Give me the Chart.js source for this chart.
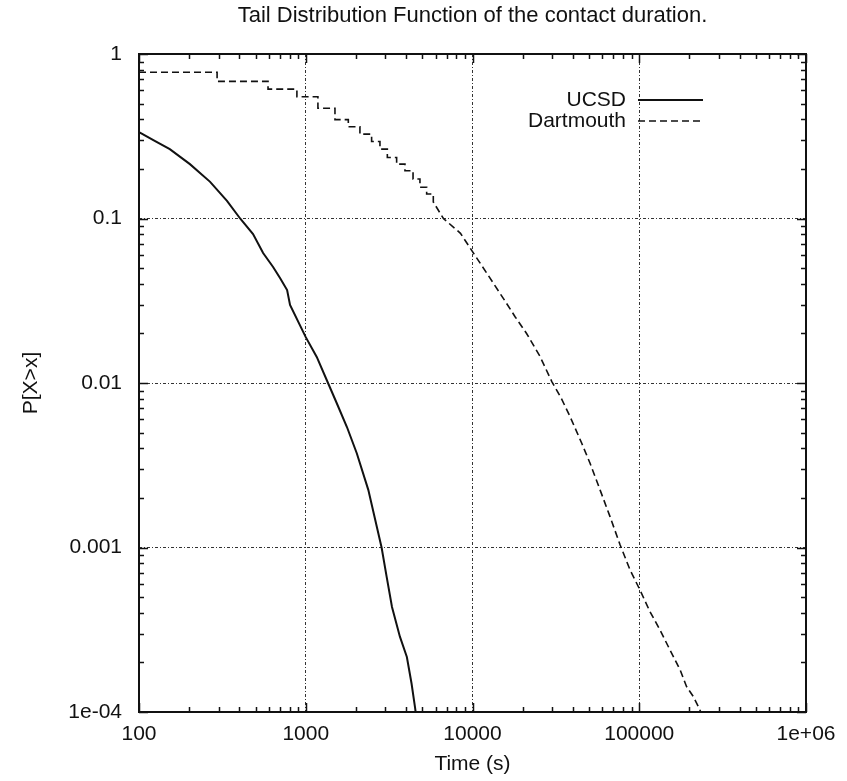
<!DOCTYPE html>
<html>
<head>
<meta charset="utf-8">
<title>Tail Distribution Function of the contact duration.</title>
<script src="https://cdn.jsdelivr.net/npm/chart.js@4.4.1/dist/chart.umd.min.js"></script>
<style>
    html, body { margin: 0; padding: 0; background: #fff; }
    #wrap { width: 847px; height: 781px; }
</style>
</head>
<body>
<div id="wrap"><canvas id="tdfChart" width="847" height="781"></canvas></div>
<script>
// ─── data ───
const ucsdX = [100, 125, 153, 202, 267, 337, 404, 483, 555, 637, 701, 773, 805, 1000, 1164, 1360, 1535, 1766, 2023, 2372,
    2850, 3055, 3290, 3670, 4040, 4310, 4520, 4560];
const ucsdY = [0.335, 0.295, 0.264, 0.214, 0.167, 0.128, 0.1, 0.0805, 0.0617, 0.0507, 0.0435, 0.0367, 0.0298, 0.019, 0.0144, 0.01, 0.00753, 0.0054, 0.00374, 0.00224,
    0.001, 0.000665, 0.000435, 0.000287, 0.000216, 0.000149, 0.000107, 0.0001];

const dartX = [100, 294, 294, 594, 594, 885, 885, 1183, 1183, 1497, 1497, 1800, 1800, 2113, 2113, 2483, 2483, 2786, 2786,
    3085, 3085, 3508, 3508, 3935, 3935, 4400, 4400, 4840, 4840, 5310, 5310, 5820, 5820,
    6690, 8470, 10000, 12200, 15300, 18000, 21100, 25400, 29900, 34000, 38500, 45200, 50700, 58200, 66800, 76700, 88100,
    101000, 116000, 133000, 153000, 176000, 192000, 211000, 226000, 234000];
const dartY = [0.774, 0.774, 0.682, 0.682, 0.612, 0.612, 0.55, 0.55, 0.468, 0.468, 0.399, 0.399, 0.361, 0.361, 0.326, 0.326, 0.294, 0.294, 0.264,
    0.264, 0.235, 0.235, 0.214, 0.214, 0.195, 0.195, 0.174, 0.174, 0.155, 0.155, 0.141, 0.141, 0.126,
    0.1, 0.0813, 0.0629, 0.0464, 0.0327, 0.0253, 0.02, 0.0145, 0.0102, 0.0081, 0.00624, 0.0043, 0.00325, 0.00224, 0.00154, 0.00104, 0.00073,
    0.000552, 0.000407, 0.000316, 0.000238, 0.00018, 0.000143, 0.000124, 0.000108, 0.0001];

const xTickLabels = { 100: '100', 1000: '1000', 10000: '10000', 100000: '100000', 1000000: '1e+06' };
const yTickLabels = { 1: '1', 0.1: '0.1', 0.01: '0.01', 0.001: '0.001', 0.0001: '1e-04' };

const FONT = "'Liberation Sans', Arial, Helvetica, sans-serif";
const INK = '#111';

const isDecade = v => Math.abs(Math.log10(v) - Math.round(Math.log10(v))) < 1e-6;

// 1..9 x 10^k ticks between min and max
function logTicks(min, max) {
    const out = [];
    for (let e = Math.round(Math.log10(min)); e < Math.round(Math.log10(max)); e++) {
        for (let m = 1; m < 10; m++) out.push({ value: m * Math.pow(10, e) });
    }
    out.push({ value: max });
    return out;
}

function labelFor(map, v) {
    for (const k in map) {
        if (Math.abs(Math.log10(+k) - Math.log10(v)) < 1e-6) return map[k];
    }
    return '';
}

// ─── frame, inward ticks (all four sides) and gnuplot style key ───
const gnuplotDecor = {
    id: 'gnuplotDecor',
    afterDatasetsDraw(chart) {
        const { ctx, chartArea: a, scales } = chart;
        ctx.save();
        ctx.strokeStyle = INK;
        ctx.lineWidth = 1.5;
        ctx.setLineDash([]);
        ctx.beginPath();
        scales.x.ticks.forEach(t => {
            const px = Math.round(scales.x.getPixelForValue(t.value)) + 0.5;
            const len = isDecade(t.value) ? 9 : 5;
            ctx.moveTo(px, a.bottom); ctx.lineTo(px, a.bottom - len);
            ctx.moveTo(px, a.top); ctx.lineTo(px, a.top + len);
        });
        scales.y.ticks.forEach(t => {
            const py = Math.round(scales.y.getPixelForValue(t.value)) + 0.5;
            const len = isDecade(t.value) ? 9 : 5;
            ctx.moveTo(a.left, py); ctx.lineTo(a.left + len, py);
            ctx.moveTo(a.right, py); ctx.lineTo(a.right - len, py);
        });
        ctx.stroke();

        ctx.lineWidth = 2;
        ctx.strokeRect(a.left, a.top, a.right - a.left, a.bottom - a.top);

        // key
        ctx.font = '21px ' + FONT;
        ctx.fillStyle = INK;
        ctx.textAlign = 'right';
        ctx.textBaseline = 'middle';
        chart.data.datasets.forEach((ds, i) => {
            const y = a.top + 46 + i * 21;
            ctx.fillText(ds.label, a.right - 180, y);
            ctx.strokeStyle = ds.borderColor;
            ctx.lineWidth = ds.borderWidth;
            ctx.setLineDash(ds.borderDash || []);
            ctx.beginPath();
            ctx.moveTo(a.right - 168, y);
            ctx.lineTo(a.right - 103, y);
            ctx.stroke();
        });
        ctx.restore();
    }
};

const ctx = document.getElementById('tdfChart').getContext('2d');
new Chart(ctx, {
    type: 'scatter',
    data: {
        datasets: [{
            label: 'UCSD',
            data: ucsdX.map((x, i) => ({ x, y: ucsdY[i] })),
            showLine: true,
            borderColor: INK,
            borderWidth: 2,
            pointRadius: 0,
            tension: 0
        }, {
            label: 'Dartmouth',
            data: dartX.map((x, i) => ({ x, y: dartY[i] })),
            showLine: true,
            borderColor: INK,
            borderWidth: 1.6,
            borderDash: [7, 4],
            pointRadius: 0,
            tension: 0
        }]
    },
    options: {
        responsive: false,
        animation: false,
        layout: { padding: { left: 0, right: 41, top: 0, bottom: 0 } },
        scales: {
            x: {
                type: 'logarithmic',
                min: 100,
                max: 1000000,
                afterBuildTicks: s => { s.ticks = logTicks(100, 1000000); },
                afterFit: s => { s.height = 69; },
                ticks: {
                    autoSkip: false,
                    maxRotation: 0,
                    padding: 10,
                    color: INK,
                    font: { family: FONT, size: 21 },
                    callback: v => labelFor(xTickLabels, v)
                },
                grid: {
                    drawTicks: false,
                    color: c => (c.tick && isDecade(c.tick.value)) ? '#333' : 'rgba(0,0,0,0)',
                    lineWidth: 1
                },
                border: { display: false, dash: [3, 2, 1, 2] },
                title: {
                    display: true,
                    text: 'Time (s)',
                    color: INK,
                    font: { family: FONT, size: 21 },
                    padding: { top: 0, bottom: 4 }
                }
            },
            y: {
                type: 'logarithmic',
                min: 0.0001,
                max: 1,
                afterBuildTicks: s => { s.ticks = logTicks(0.0001, 1); },
                afterFit: s => { s.width = 139; },
                ticks: {
                    autoSkip: false,
                    padding: 17,
                    color: INK,
                    font: { family: FONT, size: 21 },
                    callback: v => labelFor(yTickLabels, v)
                },
                grid: {
                    drawTicks: false,
                    color: c => (c.tick && isDecade(c.tick.value)) ? '#333' : 'rgba(0,0,0,0)',
                    lineWidth: 1
                },
                border: { display: false, dash: [3, 2, 1, 2] },
                title: {
                    display: true,
                    text: 'P[X>x]',
                    color: INK,
                    font: { family: FONT, size: 21 },
                    padding: { top: 19, bottom: 0 }
                }
            }
        },
        plugins: {
            legend: { display: false },
            tooltip: { enabled: false },
            title: {
                display: true,
                fullSize: false,
                text: 'Tail Distribution Function of the contact duration.',
                color: INK,
                font: { family: FONT, size: 22, weight: 'normal' },
                padding: { top: 3, bottom: 24.6 }
            }
        }
    },
    plugins: [gnuplotDecor]
});
</script>
</body>
</html>
